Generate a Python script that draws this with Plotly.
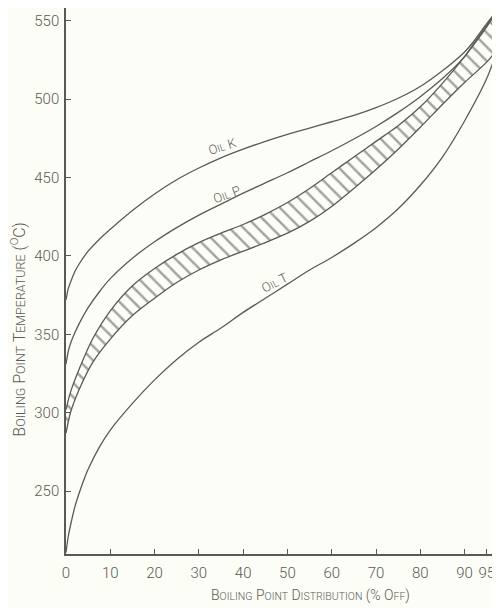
import plotly.graph_objects as go

# ---- data (x = % off, y = boiling point °C) ----
x_k = [0, 0.5, 1, 2, 3, 5, 7.5, 10, 15, 20, 25, 30, 35, 40, 45, 50, 55, 60, 65, 70, 75, 80, 85, 90, 92, 95, 97.5]
oil_k = [372, 379, 383, 390, 395, 403, 410.5, 417, 429, 439.5, 448.5, 456, 462.5, 468, 473, 477.5, 481.5,
         485.5, 489.5, 494.5, 500.5, 508, 518, 530, 536.5, 548, 557]

x_p = [0, 0.5, 1, 2, 3, 5, 7.5, 10, 15, 20, 25, 30, 35, 40, 45, 50, 55, 60, 65, 70, 75, 80, 85, 90, 92, 95, 97.5]
oil_p = [331, 339, 344, 351, 357, 367, 377, 385.5, 398.5, 409, 418, 426, 433, 440, 446.5, 453, 460, 467,
         474.5, 482.5, 491.5, 501.5, 513, 527, 535, 547, 557]

x_band = [0, 1, 3, 6, 10, 15, 20, 25, 30, 35, 40, 45, 50, 55, 60, 65, 70, 75, 80, 85, 90, 95, 97.5]
band_upper = [302, 313, 328, 347, 365, 381, 392, 401, 408.5, 414.5, 420, 426.5, 434, 443, 453, 463, 473,
              483, 495, 510, 527, 546, 557]
band_lower = [287, 300, 315, 332, 347, 362, 373, 383, 391, 397.5, 403, 408.5, 414.5, 422, 431.5, 443, 455,
              468, 482, 496.5, 510.5, 523.5, 532]

x_t = [0, 0.5, 1, 2, 3, 4, 5, 7.5, 10, 15, 20, 25, 30, 35, 40, 45, 50, 55, 60, 65, 70, 75, 80, 85, 90, 95, 97.5]
oil_t = [211, 221, 228, 240, 249, 257, 264, 278, 289, 306, 321, 334, 345, 354, 364, 373, 382, 391, 399, 408,
         418, 430, 445, 463, 486, 513, 532]

x_ticks = [0, 10, 20, 30, 40, 50, 60, 70, 80, 90, 95]
y_ticks = [250, 300, 350, 400, 450, 500, 550]

SM = "font-size:10px"
labels = [f"O<span style='{SM}'>IL</span> K",
          f"O<span style='{SM}'>IL</span> P",
          f"O<span style='{SM}'>IL</span> T"]
label_x = [35.2, 36.3, 47.2]
label_y = [470, 439, 383]
label_angle = [-18, -20, -27]

INK = "#5a5a55"
BG = "#fdfdf7"
FONT = "Roboto, Liberation Sans, sans-serif"

fig = go.Figure()
line = dict(color=INK, width=1.3, shape="spline", smoothing=0.8)

fig.add_trace(go.Scatter(x=x_band, y=band_lower, mode="lines", line=line, hoverinfo="skip"))
fig.add_trace(go.Scatter(x=x_band, y=band_upper, mode="lines", line=line, fill="tonexty",
                         fillcolor="rgba(0,0,0,0)",
                         fillpattern=dict(shape="\\", size=10, solidity=0.25,
                                          fgcolor="#4a4a46", bgcolor=BG),
                         hoverinfo="skip"))
fig.add_trace(go.Scatter(x=x_k, y=oil_k, mode="lines", line=line, name="Oil K"))
fig.add_trace(go.Scatter(x=x_p, y=oil_p, mode="lines", line=line, name="Oil P"))
fig.add_trace(go.Scatter(x=x_t, y=oil_t, mode="lines", line=line, name="Oil T"))

for t, lx, ly, a in zip(labels, label_x, label_y, label_angle):
    fig.add_annotation(x=lx, y=ly, text=t, showarrow=False, textangle=a,
                       font=dict(family=FONT, size=13, color=INK, weight=300))

SMX = "font-size:10.5px"
SMY = "font-size:12.5px"
xtitle = (f"B<span style='{SMX}'>OILING</span> P<span style='{SMX}'>OINT</span> "
          f"D<span style='{SMX}'>ISTRIBUTION</span> (% O<span style='{SMX}'>FF</span>)")
ytitle = (f"B<span style='{SMY}'>OILING</span> P<span style='{SMY}'>OINT</span> "
          f"T<span style='{SMY}'>EMPERATURE</span> (<sup>O</sup>C)")

fig.add_annotation(xref="paper", yref="paper", x=(310 - 66) / 434, y=0, yshift=-41,
                   text=xtitle, showarrow=False, yanchor="middle",
                   font=dict(family=FONT, size=14, color=INK, weight=300))
fig.add_annotation(xref="paper", yref="y", x=0, xshift=-47, y=353,
                   text=ytitle, showarrow=False, textangle=-90, xanchor="center",
                   font=dict(family=FONT, size=16, color=INK, weight=300))

axis_common = dict(ticks="inside", ticklen=5, tickcolor=INK, showline=True, linecolor=INK,
                   linewidth=1.5, showgrid=False, zeroline=False, automargin=False,
                   tickfont=dict(family=FONT, size=15, color=INK, weight=300))

# the page adds an 8px body margin, so the figure is placed 8px right/down
fig.update_layout(
    width=500, height=608,
    margin=dict(l=58, r=8, t=0, b=62),
    paper_bgcolor=BG, plot_bgcolor=BG,
    showlegend=False,
    font=dict(family=FONT, size=15, color=INK),
    xaxis=dict(range=[0, 98], tickvals=x_ticks, ticklabelstandoff=4, **axis_common),
    yaxis=dict(range=[210, 558], tickvals=y_ticks, ticklabelstandoff=2, **axis_common),
)

fig.write_html("out.html")
